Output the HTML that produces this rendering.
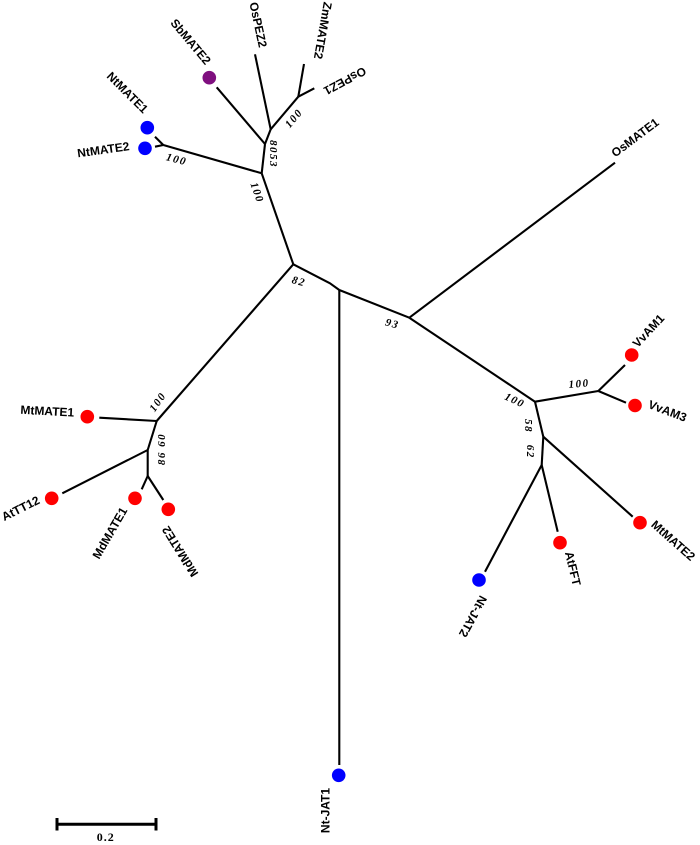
<!DOCTYPE html>
<html>
<head>
<meta charset="utf-8">
<style>
html,body{margin:0;padding:0;background:#fff;}
svg{display:block;}
.lbl{font-family:"Liberation Sans",Arial,sans-serif;font-weight:bold;font-size:12px;fill:#000;}
.bs{font-family:"Liberation Serif","Times New Roman",serif;font-weight:bold;font-style:italic;font-size:11px;fill:#000;letter-spacing:1.5px;}
</style>
</head>
<body>
<svg width="700" height="845" viewBox="0 0 700 845" xmlns="http://www.w3.org/2000/svg">
<g stroke="#000" stroke-width="2.1" fill="none" stroke-linecap="butt" stroke-linejoin="round">
  <line x1="293.3" y1="264.3" x2="261.7" y2="173.3"/>
  <line x1="261.7" y1="173.3" x2="163.3" y2="145"/>
  <line x1="163.3" y1="145" x2="155" y2="136.7"/>
  <line x1="163.3" y1="145" x2="155" y2="146.7"/>
  <line x1="261.7" y1="173.3" x2="265" y2="144"/>
  <line x1="265" y1="144" x2="216.7" y2="87.3"/>
  <line x1="265" y1="144" x2="270.7" y2="129.3"/>
  <line x1="270.7" y1="129.3" x2="255" y2="54.3"/>
  <line x1="270.7" y1="129.3" x2="298.3" y2="96.7"/>
  <line x1="298.3" y1="96.7" x2="304" y2="64"/>
  <line x1="298.3" y1="96.7" x2="314.3" y2="88.3"/>
  <line x1="293.3" y1="264.3" x2="156.7" y2="421"/>
  <line x1="156.7" y1="421" x2="99.3" y2="417.7"/>
  <line x1="156.7" y1="421" x2="147.7" y2="450"/>
  <line x1="147.7" y1="450" x2="62.3" y2="493.3"/>
  <line x1="147.7" y1="450" x2="147.7" y2="476"/>
  <line x1="147.7" y1="476" x2="141.7" y2="489.3"/>
  <line x1="147.7" y1="476" x2="163.3" y2="500"/>
  <polyline points="293.3,264.3 330,283.3 339.3,290"/>
  <line x1="339.3" y1="290" x2="339.3" y2="765"/>
  <line x1="339.3" y1="290" x2="409.3" y2="317.7"/>
  <line x1="409.3" y1="317.7" x2="615" y2="162.7"/>
  <line x1="409.3" y1="317.7" x2="535" y2="401.7"/>
  <line x1="535" y1="401.7" x2="598.3" y2="391"/>
  <line x1="598.3" y1="391" x2="625" y2="365"/>
  <line x1="598.3" y1="391" x2="626" y2="402.7"/>
  <line x1="535" y1="401.7" x2="543.3" y2="436.7"/>
  <line x1="543.3" y1="436.7" x2="632.7" y2="516.7"/>
  <line x1="543.3" y1="436.7" x2="541.7" y2="465"/>
  <line x1="541.7" y1="465" x2="557.7" y2="531.7"/>
  <line x1="541.7" y1="465" x2="485" y2="571.7"/>
</g>

<!-- dots -->
<g>
  <circle cx="147.3" cy="127.7" r="6.8" fill="#0000ff"/>
  <circle cx="145" cy="148.3" r="6.8" fill="#0000ff"/>
  <circle cx="209.3" cy="77.7" r="6.8" fill="#7f0f7f"/>
  <circle cx="87.3" cy="416.7" r="6.8" fill="#ff0000"/>
  <circle cx="51.7" cy="498.3" r="6.8" fill="#ff0000"/>
  <circle cx="135" cy="498.3" r="6.8" fill="#ff0000"/>
  <circle cx="168.3" cy="509.3" r="6.8" fill="#ff0000"/>
  <circle cx="338.7" cy="775.3" r="6.8" fill="#0000ff"/>
  <circle cx="631.7" cy="355" r="6.8" fill="#ff0000"/>
  <circle cx="635" cy="405.5" r="6.8" fill="#ff0000"/>
  <circle cx="640" cy="522.7" r="6.8" fill="#ff0000"/>
  <circle cx="560" cy="542.7" r="6.8" fill="#ff0000"/>
  <circle cx="479" cy="580" r="6.8" fill="#0000ff"/>
</g>

<!-- leaf labels -->
<g class="lbl" text-anchor="middle">
  <text transform="translate(190.8,41.7) rotate(50)" dy="0.35em">SbMATE2</text>
  <text transform="translate(258.3,24.8) rotate(78)" dy="0.35em">OsPEZ2</text>
  <text transform="translate(323,30.5) rotate(100)" dy="0.35em">ZmMATE2</text>
  <text transform="translate(345,81) rotate(152)" dy="0.35em">OsPEZ1</text>
  <text transform="translate(127.5,92.5) rotate(45)" dy="0.35em">NtMATE1</text>
  <text transform="translate(103.3,149.6) rotate(-8)" dy="0.35em">NtMATE2</text>
  <text transform="translate(47.3,411) rotate(3)" dy="0.35em">MtMATE1</text>
  <text transform="translate(20.5,508.3) rotate(-26.6)" dy="0.35em">AtTT12</text>
  <text transform="translate(109.8,533) rotate(-60)" dy="0.35em">MdMATE1</text>
  <text transform="translate(180,551.5) rotate(238)" dy="0.35em">MdMATE2</text>
  <text transform="translate(325.5,810.5) rotate(-90)" dy="0.35em">Nt-JAT1</text>
  <text transform="translate(473,616.5) rotate(118.6)" dy="0.35em">Nt-JAT2</text>
  <text transform="translate(573,568.5) rotate(76.7)" dy="0.35em">AtFFT</text>
  <text transform="translate(673.3,540.5) rotate(41.6)" dy="0.35em">MtMATE2</text>
  <text transform="translate(648.3,330.8) rotate(-47)" dy="0.35em">VvAM1</text>
  <text transform="translate(667.5,410.8) rotate(20.9)" dy="0.35em">VvAM3</text>
  <text transform="translate(635,137.5) rotate(-37)" dy="0.35em">OsMATE1</text>
</g>

<!-- bootstrap labels -->
<g class="bs" text-anchor="middle">
  <text transform="translate(176.7,159) rotate(15)" dy="0.35em">100</text>
  <text transform="translate(274,154) rotate(90)" dy="0.35em">8053</text>
  <text transform="translate(293.5,118) rotate(-50)" dy="0.35em">100</text>
  <text transform="translate(257.5,192.5) rotate(71)" dy="0.35em">100</text>
  <text transform="translate(299,281) rotate(15)" dy="0.35em">82</text>
  <text transform="translate(157.5,401.7) rotate(-55)" dy="0.35em">100</text>
  <text transform="translate(161,449) rotate(-90)" dy="0.35em">86 60</text>
  <text transform="translate(392.5,323.3) rotate(15)" dy="0.35em">93</text>
  <text transform="translate(579,383.3) rotate(-5)" dy="0.35em">100</text>
  <text transform="translate(515,400) rotate(25)" dy="0.35em">100</text>
  <text transform="translate(529,426) rotate(90)" dy="0.35em">58</text>
  <text transform="translate(531,451.7) rotate(90)" dy="0.35em">62</text>
</g>

<!-- scale bar -->
<g stroke="#000" stroke-width="3">
  <line x1="57" y1="824.3" x2="156" y2="824.3"/>
  <line x1="57" y1="818" x2="57" y2="830.5"/>
  <line x1="156" y1="818" x2="156" y2="830.5"/>
</g>
<text x="105.7" y="841" text-anchor="middle" style="font-family:'Liberation Serif','Times New Roman',serif;font-weight:bold;font-size:12px;letter-spacing:1px;">0.2</text>
</svg>
</body>
</html>
